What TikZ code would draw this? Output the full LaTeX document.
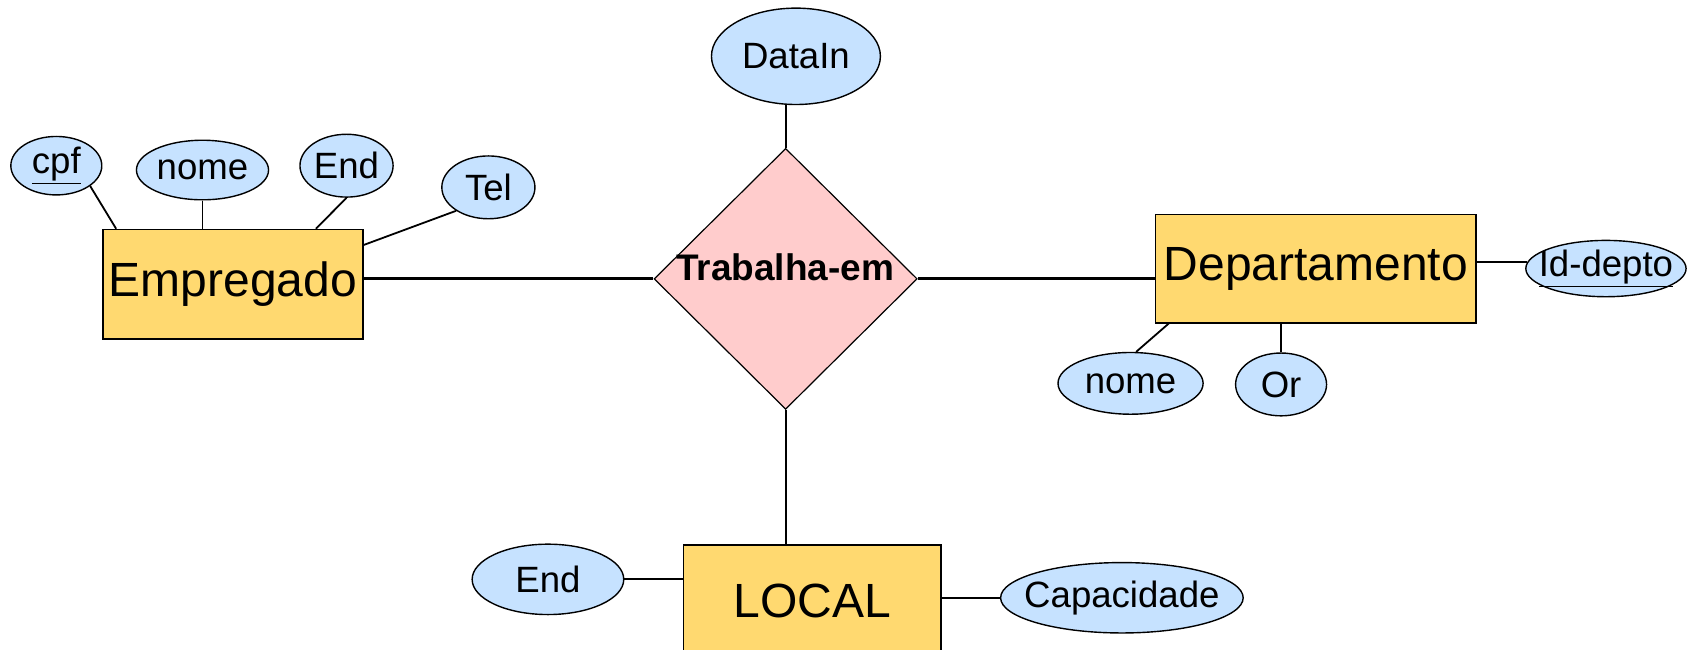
\documentclass[tikz,border=0pt]{standalone}
\usepackage{fontspec}
\setmainfont{Liberation Sans}
\usetikzlibrary{shapes.geometric, calc}
\definecolor{entfill}{RGB}{255,217,112}
\definecolor{attfill}{RGB}{198,226,255}
\definecolor{relfill}{RGB}{255,204,204}
\newcommand\px{0.5415pt}
\newcommand\atxt[1]{\makebox[0pt]{#1}}
\tikzset{
    entity/.style={draw, rectangle, fill=entfill, line width=0.8pt, inner sep=0pt, font=\fontsize{24}{28}\selectfont},
    attr/.style={draw, ellipse, fill=attfill, line width=0.7pt, inner sep=0pt, font=\fontsize{18.3}{21}\selectfont},
    rel/.style={draw, diamond, fill=relfill, line width=0.6pt, inner sep=0pt},
    link/.style={line width=0.9pt},
    rellink/.style={line width=1.5pt}
}
\begin{document}
\begin{tikzpicture}[x=0.5415pt, y=-0.5415pt]
    \useasboundingbox (0,0) rectangle (1568,600);

    % entidades e relacionamento
    \node[entity, minimum width=240*\px, minimum height=101*\px] (emp) at (215,262.5) {Empregado};
    \node[entity, minimum width=296*\px, minimum height=100*\px] (dept) at (1215,248) {Departamento};
    \node[entity, minimum width=238*\px, minimum height=104*\px] (local) at (750,555) {LOCAL};
    \node[rel, minimum width=243*\px, minimum height=241*\px] (rel) at (725.5,257.5) {};
    \node[font=\fontsize{18.5}{21}\selectfont\bfseries] (relname) at (725,247) {Trabalha-em};

    % atributos
    \node[attr, minimum width=156*\px, minimum height=89*\px] (datain) at (735,52) {\atxt{DataIn}};
    \node[attr, minimum width=84*\px, minimum height=54*\px] (cpf) at (52,153) {\atxt{\underline{cpf}}};
    \node[attr, minimum width=122*\px, minimum height=55*\px] (nomeemp) at (187,157) {\atxt{nome}};
    \node[attr, minimum width=86*\px, minimum height=58*\px] (endemp) at (320,153) {\atxt{End}};
    \node[attr, minimum width=86*\px, minimum height=58*\px] (tel) at (451,173) {\atxt{Tel}};
    \node[attr, minimum width=148*\px, minimum height=52*\px] (iddepto) at (1483,248) {\atxt{\underline{Id-depto}}};
    \node[attr, minimum width=134*\px, minimum height=57*\px] (nomedept) at (1044,354) {\atxt{nome}};
    \node[attr, minimum width=84*\px, minimum height=58*\px] (or) at (1183,355) {\atxt{Or}};
    \node[attr, minimum width=140*\px, minimum height=65*\px] (endlocal) at (506,535) {\atxt{End}};
    \node[attr, minimum width=224*\px, minimum height=65*\px] (capac) at (1036,552) {\atxt{Capacidade}};

    % ligacoes do relacionamento
    \draw[rellink] (emp.east |- rel.west) -- (rel.west);
    \draw[rellink] (rel.east) -- (dept.west |- rel.east);
    \draw[link] (rel.south) -- (rel.south |- local.north);
    \draw[link] (rel.north) -- (rel.north |- datain.south);

    % ligacoes dos atributos
    \draw[link] (cpf.-31) -- ($(emp.north west)+(13,0)$);
    \draw[link] (nomeemp.south) -- (nomeemp.south |- emp.north);
    \draw[link] (endemp.south) -- ($(emp.north east)+(-44,0)$);
    \draw[link] (tel.216) -- ($(emp.north east)+(0,15)$);
    \draw[link] (iddepto.175) -- (dept.east |- iddepto.175);
    \draw[link] (nomedept.80) -- ($(dept.south west)+(13,0)$);
    \draw[link] (or.north) -- (or.north |- dept.south);
    \draw[link] (endlocal.east) -- (endlocal.east -| local.west);
    \draw[link] (capac.west) -- (capac.west -| local.east);
\end{tikzpicture}
\end{document}
